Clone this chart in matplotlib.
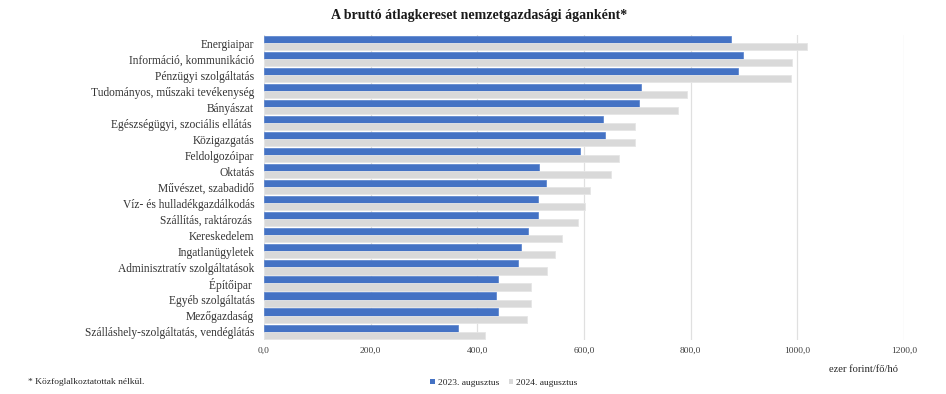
import numpy as np
import matplotlib
matplotlib.use("Agg")
import matplotlib.pyplot as plt
from matplotlib.patches import Patch

plt.rcParams['font.family'] = ['Liberation Serif', 'DejaVu Serif']

# adatok (ezer forint/fő/hó)
agak = ["Energiaipar", "Információ, kommunikáció", "Pénzügyi szolgáltatás",
        "Tudományos, műszaki tevékenység", "Bányászat", "Egészségügyi, szociális ellátás ",
        "Közigazgatás", "Feldolgozóipar", "Oktatás", "Művészet, szabadidő",
        "Víz- és hulladékgazdálkodás", "Szállítás, raktározás ", "Kereskedelem",
        "Ingatlanügyletek", "Adminisztratív szolgáltatások", "Építőipar ",
        "Egyéb szolgáltatás", "Mezőgazdaság", "Szálláshely-szolgáltatás, vendéglátás"]
kereset_2023 = [876, 898, 888, 706, 704, 635, 640, 593, 516, 529,
                514, 514, 495, 482, 476, 438, 435, 438, 364]
kereset_2024 = [1018, 990, 988, 794, 776, 696, 696, 665, 651, 611,
                601, 588, 558, 545, 531, 501, 500, 493, 414]
xticks = [0, 200, 400, 600, 800, 1000, 1200]
xtick_labels = ["0,0", "200,0", "400,0", "600,0", "800,0", "1000,0", "1200,0"]

kek = "#4472C4"
szurke = "#D9D9D9"

fig = plt.figure(figsize=(9.46, 3.94), dpi=100)
ax = fig.add_axes([264/946, 1 - 339.6/394, 640/946, 304.6/394])

y = np.arange(len(agak))
h = 0.44
ax.barh(y - h/2, kereset_2023, height=h, color=kek, edgecolor="#5580cc", linewidth=0.5, zorder=3)
ax.barh(y + h/2, kereset_2024, height=h, color=szurke, edgecolor="#e6e6e6", linewidth=0.6, zorder=3)

ax.set_ylim(len(agak) - 0.5, -0.5)
ax.set_xlim(0, 1200)
ax.set_yticks(y)
ax.set_yticklabels(agak, fontsize=8.3, color="#333333")
ax.set_xticks(xticks)
ax.set_xticklabels(xtick_labels, fontsize=6.8, color="#404040")
ax.tick_params(axis="both", length=0)
ax.tick_params(axis="x", pad=5)
ax.tick_params(axis="y", pad=7)
ax.grid(axis="x", color="#e0e0e0", linewidth=0.9, zorder=0)
for s in ax.spines.values():
    s.set_visible(False)

fig.text(479/946, 1 - 16/394, "A bruttó átlagkereset nemzetgazdasági áganként*",
         ha="center", va="center", fontsize=10, fontweight="bold", color="#1a1a1a")
fig.text(863/946, 1 - 369/394, "ezer forint/fő/hó", ha="center", va="center",
         fontsize=7.6, color="#262626")
fig.text(28/946, 1 - 382/394, "* Közfoglalkoztatottak nélkül.", ha="left", va="center",
         fontsize=6.8, color="#262626")

kezelok = [Patch(facecolor=kek, label="2023. augusztus"),
           Patch(facecolor=szurke, label="2024. augusztus")]
fig.legend(handles=kezelok, loc="center", bbox_to_anchor=(504/946, 1 - 383/394),
           ncol=2, frameon=False, fontsize=6.8, handlelength=0.5, handleheight=0.5,
           handletextpad=0.3, columnspacing=1.0, labelcolor="#262626")

fig.savefig("out.png", dpi=100)
